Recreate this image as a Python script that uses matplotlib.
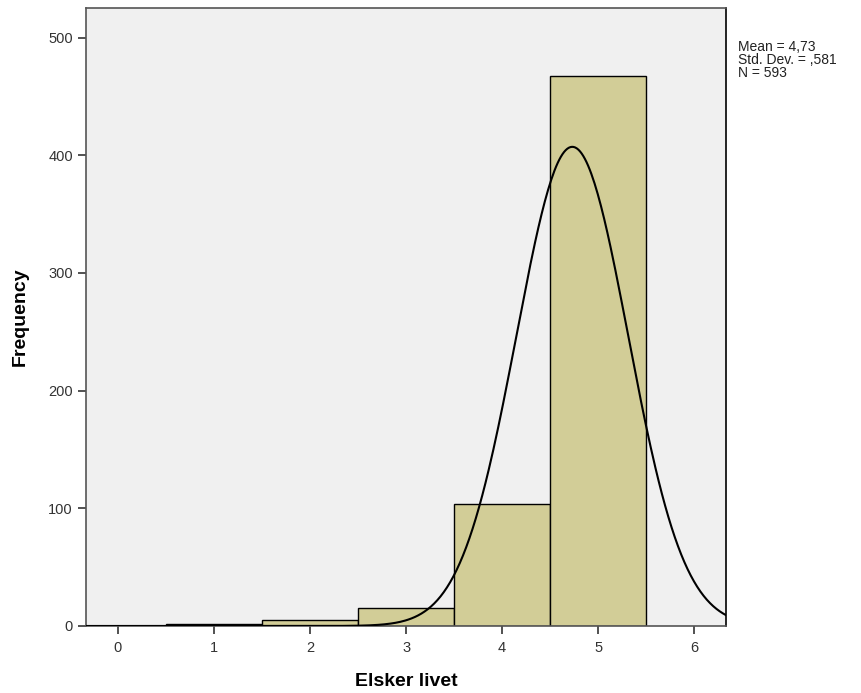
import numpy as np
import matplotlib.pyplot as plt

plt.rcParams['font.family'] = ['Liberation Sans', 'DejaVu Sans']

# ----- data -----
scores = [1, 2, 3, 4, 5]
counts = [2, 5, 15, 104, 467]
mean_val = 4.73
sd_val = 0.581
n_val = 593
x_ticks = [0, 1, 2, 3, 4, 5, 6]
y_ticks = [0, 100, 200, 300, 400, 500]

bar_color = "#d2cd97"
bg_color = "#f0f0f0"

fig = plt.figure(figsize=(8.62, 6.93), dpi=100)
ax = fig.add_axes([0.0998, 0.0967, 0.7425, 0.8915])
ax.set_facecolor(bg_color)

ax.bar(scores, counts, width=1.0, color=bar_color, edgecolor="black", linewidth=1.0, zorder=2)

# fitted normal curve (SPSS style), scaled to counts with bin width 1
xs = np.linspace(-0.33, 6.33, 400)
pdf = np.exp(-0.5 * ((xs - mean_val) / sd_val) ** 2) / (sd_val * np.sqrt(2 * np.pi))
ax.plot(xs, n_val * 1.0 * pdf, color="black", linewidth=1.5, zorder=3)

ax.set_xlim(-0.33, 6.33)
ax.set_ylim(0, 525)
ax.set_xticks(x_ticks)
ax.set_yticks(y_ticks)
ax.tick_params(direction="out", length=6, width=1.2, color="#333333",
               labelsize=10.5, labelcolor="#333333")
ax.tick_params(axis="x", pad=5)
for s in ax.spines.values():
    s.set_color("#555555")
    s.set_linewidth(1.2)
ax.spines["right"].set_color("black")

ax.set_xlabel("Elsker livet", fontsize=14, fontweight="bold", labelpad=13)
ax.set_ylabel("Frequency", fontsize=14, fontweight="bold", labelpad=14)

fig.text(0.856, 0.942, "Mean = 4,73\nStd. Dev. = ,581\nN = 593",
         fontsize=10, va="top", ha="left", linespacing=0.9, color="#222222")

fig.savefig("out.png", dpi=100, facecolor="white")
